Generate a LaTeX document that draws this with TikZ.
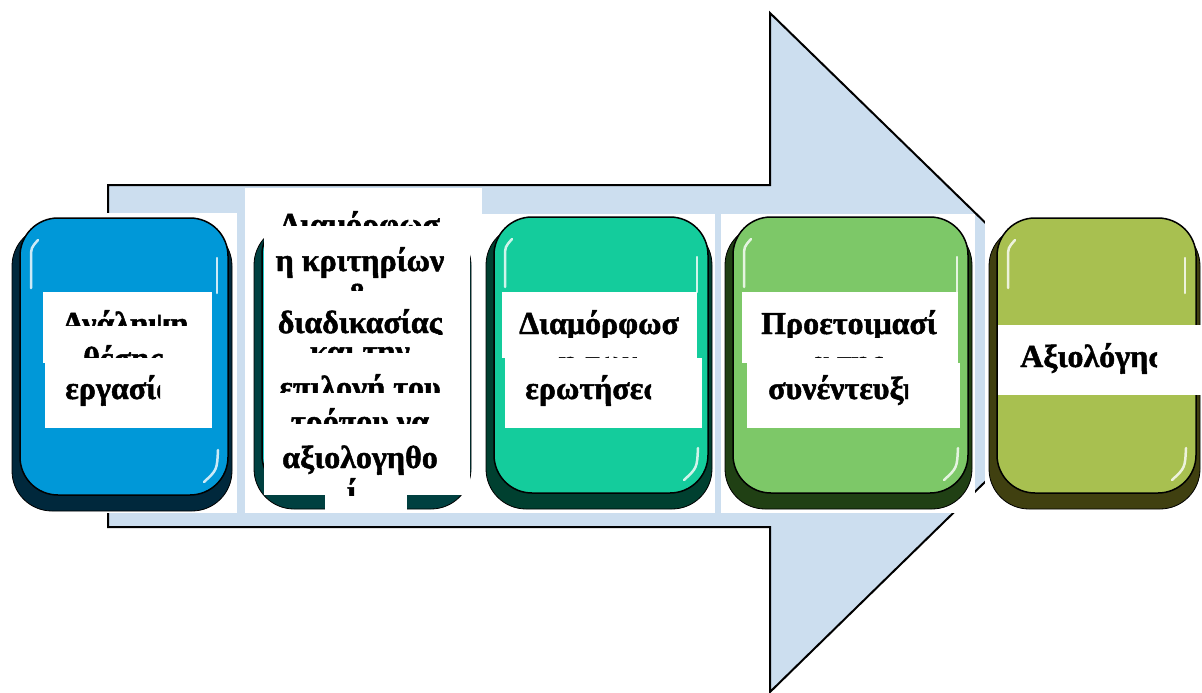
\documentclass[tikz,border=0pt]{standalone}
\usepackage{fontspec}
\setmainfont{Liberation Serif}[BoldFeatures={FakeBold=1.5}]
\definecolor{arrowblue}{RGB}{204,222,239}
\definecolor{boxa}{RGB}{0,152,216}
\definecolor{shda}{RGB}{0,40,60}
\definecolor{boxb}{RGB}{30,200,200}
\definecolor{shdb}{RGB}{0,64,64}
\definecolor{boxc}{RGB}{20,204,156}
\definecolor{shdc}{RGB}{0,64,48}
\definecolor{boxd}{RGB}{125,200,104}
\definecolor{shdd}{RGB}{32,64,20}
\definecolor{boxe}{RGB}{168,192,80}
\definecolor{shde}{RGB}{64,64,16}
\begin{document}
\begin{tikzpicture}
[x=1pt,y=-1pt,every node/.style={inner sep=0pt, font=\fontsize{32}{32}\selectfont\bfseries},
 gloss/.style={white, line width=2.5pt, line cap=round, opacity=.8}]
\useasboundingbox (0,0) rectangle (1202,693);
% big arrow behind the steps
\draw[fill=arrowblue, line width=2pt, line join=miter] (108,185) -- (770,185) -- (770,13) -- (1118,352) -- (770,692) -- (770,527) -- (108,527) -- cycle;
% white backs of the columns
\foreach \xa/\ya/\xb/\yb in {0/213/237/513, 245/188/482/513, 482/214/715/513, 721/214/975/513, 985/214/1202/513}
{
  \fill[white] (\xa,\ya) rectangle (\xb,\yb);
}
% the five glossy boxes
\foreach \xa/\ya/\xb/\yb/\col/\shd in {20/218/228/495/boxa/shda, 262/217/467/493/boxb/shdb, 494/217/708/493/boxc/shdc, 733/217/968/493/boxd/shdd, 997/218/1196/493/boxe/shde}
{
  \draw[fill=\shd, line width=.8pt, rounded corners=40] ({\xa-8},{\ya+8}) rectangle ({\xb+4},{\yb+16});
  \draw[fill=\col, line width=1.5pt, rounded corners=38] (\xa,\ya) rectangle (\xb,\yb);
  \draw[gloss] ({\xa+11},{\ya+70}) -- ({\xa+11},{\ya+40}) .. controls ({\xa+11},{\ya+30}) .. ({\xa+18},{\ya+22});
  \draw[gloss] ({\xb-11},{\ya+40}) -- ({\xb-11},{\ya+75});
  \draw[gloss] ({\xb-10},{\yb-45}) .. controls ({\xb-11},{\yb-25}) .. ({\xb-24},{\yb-13});
}
% white text panels
\foreach \xa/\ya/\xb/\yb in {43/292/212/363, 45/363/212/428, 264/188/470/495, 325/495/407/513, 502/292/697/358, 505/358/702/428, 742/292/958/363, 747/363/960/428, 998/325/1202/395}
{
  \fill[white] (\xa,\ya) rectangle (\xb,\yb);
}
% text lines, cut where the panels cut them
\foreach \nm/\xa/\ya/\xb/\yb/\anc/\px/\py/\txt in {
  a1/43/292/212/325/base/125/334/Ανάληψη,
  a2/43/292/212/357/base/123/369/θέσης,
  a3/45/363/160/428/base west/65/399/εργασία,
  b1/264/188/470/225/base/360/235/Διαμόρφωσ,
  b2/264/188/470/495/base/360/271/η κριτηρίων,
  b3/264/188/470/290/base/360/305/\&,
  b4/264/188/470/334/base/360/333/διαδικασίας,
  b5/264/188/470/352/base/360/362/και την,
  b6/264/188/470/392/base/360/398/επιλογή του,
  b7/264/188/470/423/base/360/432/τρόπου να,
  b8/264/188/470/495/base/360/468/αξιολογηθο,
  b9/264/470/470/495/base/352/502/ί,
  c1/502/292/697/337/base/599/334/Διαμόρφωσ,
  c2/502/292/697/357/base/598/372/η των,
  c3/505/358/651/428/base west/525/399/ερωτήσεων,
  d1/742/292/958/337/base/849/334/Προετοιμασί,
  d2/742/292/958/357/base/847/372/α της,
  d3/747/363/908/428/base west/768/399/συνέντευξη,
  e1/998/325/1157/395/base west/1020/367/Αξιολόγηση}
{
  \begin{scope}
    \clip (\xa,\ya) rectangle (\xb,\yb);
    \node[anchor=\anc] (\nm) at (\px,\py) {\txt};
  \end{scope}
}
\end{tikzpicture}
\end{document}
